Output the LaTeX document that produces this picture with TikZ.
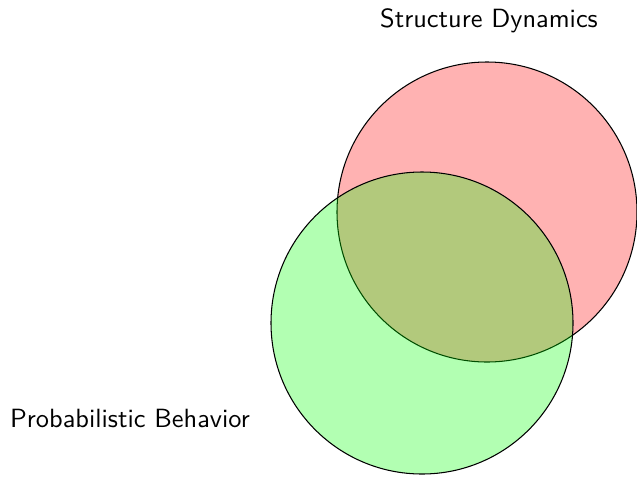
\documentclass[tikz,border=0pt]{standalone}
\usepackage{tikz}
\usetikzlibrary{positioning}
\renewcommand{\familydefault}{\sfdefault}

\begin{document}
\begin{tikzpicture}[x=0.01333cm,y=-0.01333cm,
		setfill/.style={opacity=0.3}]

		\useasboundingbox (0,0) rectangle (637,476);

		\fill[red, setfill] (487,212) circle (150);
		\draw (487,212) circle (150);
		\fill[green, setfill] (422,323) circle (151);
		\draw (422,323) circle (151);

		\node (SD) at (489,21) {Structure Dynamics};
		\node (PB) at (130,418) {Probabilistic Behavior};

	\end{tikzpicture}
\end{document}
